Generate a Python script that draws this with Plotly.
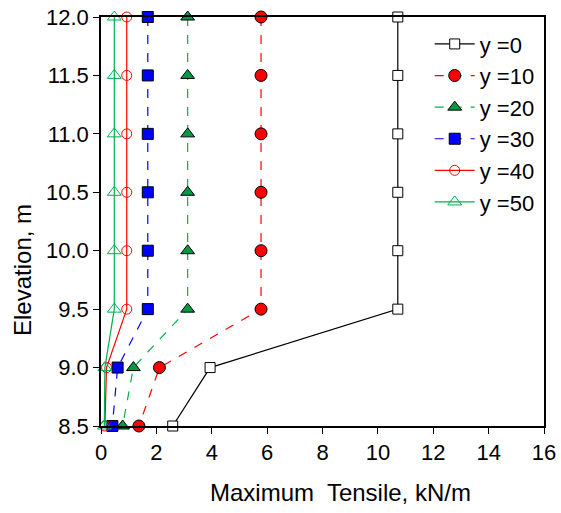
import plotly.graph_objects as go

elevation = [12.0, 11.5, 11.0, 10.5, 10.0, 9.5, 9.0, 8.5]
names = ["y =0", "y =10", "y =20", "y =30", "y =40", "y =50"]
t_y0 = [10.72, 10.72, 10.72, 10.72, 10.72, 10.72, 3.94, 2.59]
t_y10 = [5.78, 5.78, 5.78, 5.78, 5.78, 5.78, 2.11, 1.37]
t_y20 = [3.13, 3.13, 3.13, 3.13, 3.13, 3.13, 1.17, 0.78]
t_y30 = [1.69, 1.69, 1.69, 1.69, 1.69, 1.69, 0.60, 0.41]
t_y40 = [0.93, 0.93, 0.93, 0.93, 0.93, 0.93, 0.20, 0.14]
t_y50 = [0.48, 0.48, 0.48, 0.48, 0.48, 0.48, 0.14, 0.12]
series = [t_y0, t_y10, t_y20, t_y30, t_y40, t_y50]

styles = [
    dict(line=dict(color="black", width=1.2, dash="solid"),
         marker=dict(symbol="square", color="white", size=10, line=dict(color="black", width=1))),
    dict(line=dict(color="#ff0000", width=1.2, dash="dash"),
         marker=dict(symbol="circle", color="#ff0000", size=12, line=dict(color="black", width=1))),
    dict(line=dict(color="#00b050", width=1.2, dash="dash"),
         marker=dict(symbol="triangle-up", color="#009944", size=12, line=dict(color="black", width=1))),
    dict(line=dict(color="#0000ff", width=1.2, dash="dash"),
         marker=dict(symbol="square", color="#0000ff", size=11, line=dict(color="black", width=1))),
    dict(line=dict(color="#ff0000", width=1.2, dash="solid"),
         marker=dict(symbol="circle-open", color="#ff0000", size=10, line=dict(color="#ff0000", width=1))),
    dict(line=dict(color="#00b050", width=1.2, dash="solid"),
         marker=dict(symbol="triangle-up-open", color="#00b050", size=12, line=dict(color="#00b050", width=1))),
]

fig = go.Figure()
for i, (nm, vals, st) in enumerate(zip(names, series, styles)):
    fig.add_trace(go.Scatter(x=vals, y=elevation, name=nm, mode="lines+markers",
                             line=st["line"], marker=st["marker"], cliponaxis=False,
                             legendgroup=f"g{i}"))

axis_font = dict(family="Arial, Liberation Sans, sans-serif", size=22, color="black")
title_font = dict(family="Arial, Liberation Sans, sans-serif", size=24, color="black")
fig.update_layout(
    width=561, height=513,
    margin=dict(l=101, r=17, t=17, b=87),
    paper_bgcolor="white", plot_bgcolor="white",
    font=axis_font,
    showlegend=True,
    legend=dict(x=0.742, y=0.985, xanchor="left", yanchor="top", bgcolor="rgba(0,0,0,0)",
                font=axis_font, tracegroupgap=0, itemwidth=40),
    xaxis=dict(range=[0, 16], dtick=2, showgrid=False, zeroline=False, automargin=False,
               showline=True, linecolor="black", linewidth=1.5, mirror=True,
               ticks="outside", ticklen=6, tickcolor="black", tickfont=axis_font),
    yaxis=dict(range=[8.5, 12], dtick=0.5, tickformat=".1f", showgrid=False, zeroline=False,
               automargin=False,
               showline=True, linecolor="black", linewidth=1.5, mirror=True,
               ticks="outside", ticklen=6, tickcolor="black", tickfont=axis_font),
)
fig.add_annotation(text="Maximum  Tensile, kN/m", x=(340 - 101) / 443, y=-(492 - 426) / 409,
                   xref="paper", yref="paper", showarrow=False, font=title_font,
                   xanchor="center", yanchor="middle")
fig.add_annotation(text="Elevation, m", x=-(101 - 22) / 443, y=(426 - 270) / 409,
                   xref="paper", yref="paper", showarrow=False, font=title_font,
                   textangle=-90, xanchor="center", yanchor="middle")

fig.write_html("out.html")
